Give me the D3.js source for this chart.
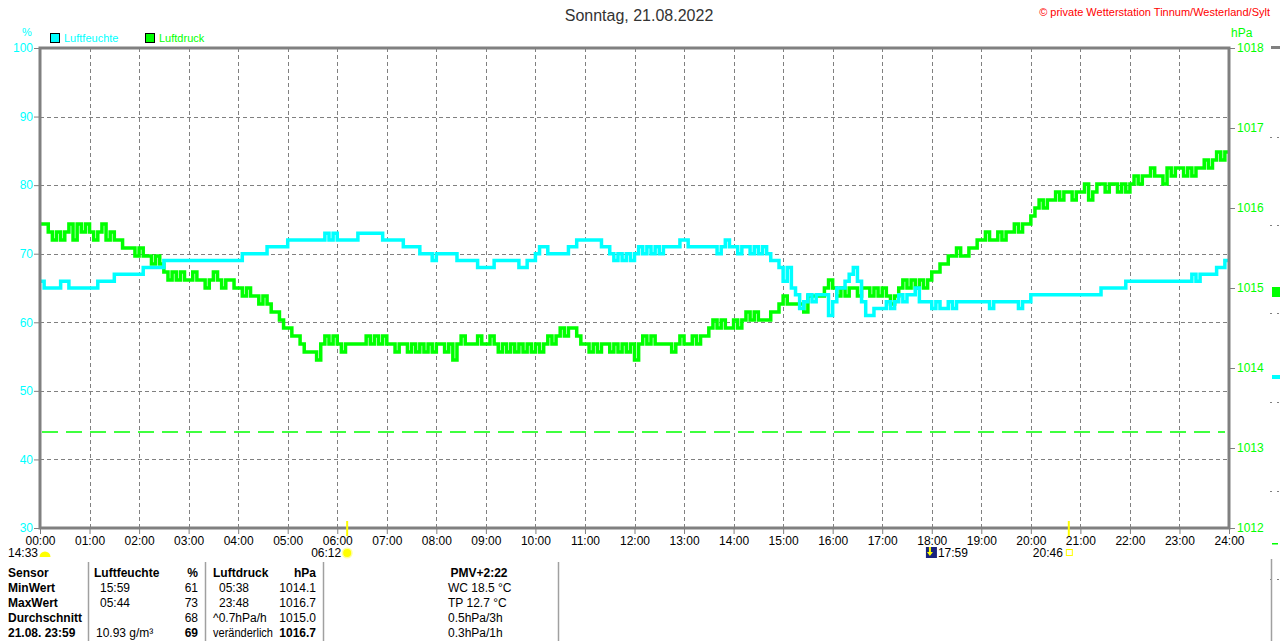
<!DOCTYPE html>
<html><head><meta charset="utf-8">
<script src="https://cdn.jsdelivr.net/npm/d3@7"></script>
<style>
html,body{margin:0;padding:0;background:#fff;}
svg text{font-family:"Liberation Sans",Arial,sans-serif;}
</style></head>
<body>
<svg id="c" width="1280" height="641"></svg>
<script>
// ---------- DATA ----------
const title = "Sonntag, 21.08.2022";
const copyright = "© private Wetterstation Tinnum/Westerland/Sylt";
const seriesNames = ["Luftfeuchte", "Luftdruck"];
const humidityTicks = [30, 40, 50, 60, 70, 80, 90, 100];
const pressureTicks = [1012, 1013, 1014, 1015, 1016, 1017, 1018];
const hourTicks = d3.range(0, 25);
const stepMinutes = 5;
// humidity % every 5 minutes (00:00 ... 24:00)
const humidity = [
  66,65,65,65,65,66,66,65,65,65,65,65,
  65,65,66,66,66,66,67,67,67,67,67,67,
  67,68,68,68,68,68,69,69,69,69,69,69,
  69,69,69,69,69,69,69,69,69,69,69,69,
  69,70,70,70,70,70,70,71,71,71,71,71,
  72,72,72,72,72,72,72,72,72,73,72,73,
  72,72,72,72,72,73,73,73,73,73,73,72,
  72,72,72,72,71,71,71,71,70,70,70,69,
  70,70,70,70,70,69,69,69,69,69,68,68,
  68,68,69,69,69,69,69,69,68,68,69,69,
  70,71,71,70,70,70,70,70,71,71,72,72,
  72,72,72,72,71,71,70,69,70,69,70,69,
  70,71,70,71,70,71,70,71,71,71,71,72,
  72,71,71,71,71,71,71,71,70,71,72,71,
  71,70,71,71,70,71,70,71,70,69,69,68,
  66,68,65,64,62,63,64,63,64,64,64,61,
  63,65,65,66,67,68,66,63,61,61,62,62,
  62,63,62,63,64,63,64,64,65,63,63,63,
  62,63,62,62,63,62,63,63,63,63,63,63,
  63,63,62,63,63,63,63,63,63,62,63,63,
  64,64,64,64,64,64,64,64,64,64,64,64,
  64,64,64,64,64,65,65,65,65,65,65,66,
  66,66,66,66,66,66,66,66,66,66,66,66,
  66,66,66,67,66,67,67,67,67,68,68,69,
  69
];
// pressure hPa every 5 minutes (00:00 ... 24:00)
const pressure = [
  1015.8,1015.8,1015.7,1015.6,1015.7,1015.6,1015.7,1015.8,1015.6,1015.8,1015.7,1015.8,
  1015.7,1015.6,1015.7,1015.8,1015.6,1015.7,1015.6,1015.6,1015.5,1015.5,1015.5,1015.4,
  1015.5,1015.4,1015.4,1015.3,1015.4,1015.3,1015.2,1015.1,1015.2,1015.1,1015.2,1015.1,
  1015.1,1015.2,1015.1,1015.1,1015.0,1015.1,1015.2,1015.1,1015.0,1015.1,1015.1,1015.0,
  1015.0,1014.9,1015.0,1014.9,1014.9,1014.8,1014.9,1014.8,1014.7,1014.7,1014.6,1014.5,
  1014.5,1014.4,1014.4,1014.3,1014.2,1014.2,1014.2,1014.1,1014.3,1014.4,1014.3,1014.4,
  1014.3,1014.2,1014.3,1014.3,1014.3,1014.3,1014.3,1014.4,1014.3,1014.4,1014.3,1014.4,
  1014.3,1014.3,1014.2,1014.3,1014.3,1014.2,1014.3,1014.2,1014.3,1014.2,1014.3,1014.2,
  1014.3,1014.3,1014.2,1014.3,1014.1,1014.3,1014.4,1014.3,1014.3,1014.3,1014.4,1014.3,
  1014.3,1014.4,1014.3,1014.2,1014.3,1014.2,1014.3,1014.2,1014.3,1014.2,1014.3,1014.2,
  1014.3,1014.2,1014.3,1014.4,1014.3,1014.4,1014.5,1014.4,1014.5,1014.5,1014.4,1014.3,
  1014.3,1014.2,1014.3,1014.2,1014.3,1014.3,1014.2,1014.3,1014.2,1014.3,1014.2,1014.3,
  1014.1,1014.3,1014.4,1014.3,1014.4,1014.3,1014.3,1014.3,1014.3,1014.2,1014.3,1014.4,
  1014.3,1014.3,1014.4,1014.3,1014.4,1014.4,1014.5,1014.6,1014.5,1014.6,1014.5,1014.5,
  1014.6,1014.5,1014.6,1014.7,1014.6,1014.7,1014.6,1014.6,1014.6,1014.7,1014.7,1014.8,
  1014.9,1014.8,1014.8,1014.8,1014.8,1014.7,1014.9,1014.9,1014.9,1014.9,1015.0,1015.1,
  1015.0,1014.9,1015.0,1014.9,1015.0,1015.0,1014.9,1015.0,1015.0,1014.9,1015.0,1014.9,
  1015.0,1014.9,1014.8,1014.9,1015.0,1015.1,1015.0,1015.1,1015.0,1015.1,1015.0,1015.1,
  1015.2,1015.2,1015.3,1015.3,1015.4,1015.4,1015.5,1015.4,1015.4,1015.5,1015.5,1015.6,
  1015.6,1015.7,1015.6,1015.6,1015.7,1015.6,1015.7,1015.7,1015.8,1015.7,1015.8,1015.8,
  1015.9,1016.0,1016.1,1016.0,1016.1,1016.1,1016.2,1016.1,1016.2,1016.2,1016.1,1016.2,
  1016.2,1016.3,1016.1,1016.2,1016.3,1016.3,1016.2,1016.3,1016.3,1016.2,1016.3,1016.2,
  1016.3,1016.4,1016.3,1016.4,1016.4,1016.5,1016.4,1016.4,1016.3,1016.5,1016.4,1016.5,
  1016.5,1016.4,1016.5,1016.4,1016.5,1016.5,1016.6,1016.5,1016.6,1016.7,1016.6,1016.7,
  1016.7
];
const pressureRef = 1013.2;
const sunrise = 6 + 12/60, sunset = 20 + 46/60;
const moonrise = "14:33", moonset = 17 + 59/60;
const tableHeader = ["Sensor", "Luftfeuchte", "%", "Luftdruck", "hPa", "PMV+2:22"];
const rowLabels = ["MinWert", "MaxWert", "Durchschnitt", "21.08. 23:59"];
const humTimes = ["15:59", "05:44", "", "10.93 g/m³"];
const humVals = ["61", "73", "68", "69"];
const presTimes = ["05:38", "23:48", "^0.7hPa/h", "veränderlich"];
const presVals = ["1014.1", "1016.7", "1015.0", "1016.7"];
const extraInfo = ["WC 18.5 °C", "TP 12.7 °C", "0.5hPa/3h", "0.3hPa/1h"];

// ---------- CHART ----------
const CYAN = "#00ffff", GREEN = "#00ff00", GRAY = "#808080";
const svg = d3.select("#c");
const L = 40, R = 1229, T = 48, B = 528;
const x = d3.scaleLinear().domain([0, 24]).range([L, R]);
const yH = d3.scaleLinear().domain([30, 100]).range([B, T]);
const yP = d3.scaleLinear().domain([1012, 1018]).range([B, T]);

// title & copyright
svg.append("text").attr("x", 639).attr("y", 21).attr("text-anchor", "middle")
  .attr("font-size", 16).attr("fill", "#333").text(title);
svg.append("text").attr("x", 1270).attr("y", 16).attr("text-anchor", "end")
  .attr("font-size", 11).attr("fill", "#ff0000").text(copyright);

// units
svg.append("text").attr("x", 27).attr("y", 36).attr("text-anchor", "middle")
  .attr("font-size", 11).attr("fill", CYAN).text("%");
svg.append("text").attr("x", 1231).attr("y", 37)
  .attr("font-size", 12).attr("fill", GREEN).text("hPa");

// legend
const legend = [[50, 64, CYAN], [145, 159, GREEN]];
legend.forEach((l, i) => {
  svg.append("rect").attr("x", l[0] + 0.5).attr("y", 33.5).attr("width", 9).attr("height", 9)
    .attr("fill", l[2]).attr("stroke", "#000").attr("stroke-width", 1);
  svg.append("text").attr("x", l[1]).attr("y", 42).attr("font-size", 11)
    .attr("fill", l[2]).text(seriesNames[i]);
});

// grid
const grid = svg.append("g").attr("stroke", GRAY).attr("stroke-width", 1).attr("stroke-dasharray", "4,3");
humidityTicks.slice(1, -1).forEach(v => {
  grid.append("line").attr("x1", L).attr("x2", R).attr("y1", Math.round(yH(v)) + 0.5).attr("y2", Math.round(yH(v)) + 0.5);
});
hourTicks.slice(1, -1).forEach(h => {
  grid.append("line").attr("x1", Math.round(x(h)) + 0.5).attr("x2", Math.round(x(h)) + 0.5).attr("y1", T).attr("y2", B);
});

// reference dashed line
svg.append("line").attr("x1", L + 2).attr("x2", R - 4)
  .attr("y1", yP(pressureRef)).attr("y2", yP(pressureRef))
  .attr("stroke", GREEN).attr("stroke-width", 1.5).attr("stroke-dasharray", "16,8");

// series
const tH = i => x(i * stepMinutes / 60);
const lineP = d3.line().x((d, i) => tH(i)).y(d => yP(d)).curve(d3.curveStepAfter);
const lineH = d3.line().x((d, i) => tH(i)).y(d => yH(d)).curve(d3.curveStepAfter);
svg.append("path").attr("d", lineP(pressure)).attr("fill", "none")
  .attr("stroke", GREEN).attr("stroke-width", 3.5).attr("stroke-linejoin", "miter");
svg.append("path").attr("d", lineH(humidity)).attr("fill", "none")
  .attr("stroke", CYAN).attr("stroke-width", 3.5).attr("stroke-linejoin", "miter");

// frame
svg.append("rect").attr("x", L).attr("y", T).attr("width", R - L).attr("height", B - T)
  .attr("fill", "none").attr("stroke", GRAY).attr("stroke-width", 3);

// axes
function styleAxis(g, color) {
  g.select(".domain").remove();
  g.selectAll(".tick line").attr("stroke", GRAY).attr("stroke-width", 1);
  g.selectAll(".tick text").attr("fill", color).attr("font-size", 12)
    .attr("font-family", "Liberation Sans, Arial, sans-serif");
}
svg.append("g").attr("transform", `translate(${L},0)`)
  .call(d3.axisLeft(yH).tickValues(humidityTicks).tickSize(6).tickPadding(1).tickFormat(d3.format("d")))
  .call(g => styleAxis(g, CYAN));
svg.append("g").attr("transform", `translate(${R},0)`)
  .call(d3.axisRight(yP).tickValues(pressureTicks).tickSize(6).tickPadding(2).tickFormat(d3.format("d")))
  .call(g => styleAxis(g, GREEN));
svg.append("g").attr("transform", `translate(0,${B})`)
  .call(d3.axisBottom(x).tickValues(hourTicks).tickSize(6).tickPadding(2)
    .tickFormat(h => String(h).padStart(2, "0") + ":00"))
  .call(g => styleAxis(g, "#000"));

// sun / moon markers
[sunrise, sunset].forEach(s => {
  svg.append("line").attr("x1", x(s)).attr("x2", x(s)).attr("y1", 521).attr("y2", 536)
    .attr("stroke", "#ffff00").attr("stroke-width", 2);
});
const fmt = h => String(Math.floor(h)).padStart(2, "0") + ":" + String(Math.round((h % 1) * 60)).padStart(2, "0");
const my = 557;
// moonrise (at day start)
svg.append("text").attr("x", 38).attr("y", my).attr("text-anchor", "end").attr("font-size", 12).text(moonrise);
svg.append("path").attr("d", d3.arc()({innerRadius: 0, outerRadius: 5.5, startAngle: -Math.PI / 2, endAngle: Math.PI / 2}))
  .attr("transform", `translate(45,${my})`).attr("fill", "#ffff00");
// sunrise
svg.append("text").attr("x", x(sunrise) - 6).attr("y", my).attr("text-anchor", "end").attr("font-size", 12).text(fmt(sunrise));
svg.append("circle").attr("cx", x(sunrise)).attr("cy", my - 4).attr("r", 5.5).attr("fill", "#ffffa0");
svg.append("circle").attr("cx", x(sunrise)).attr("cy", my - 4).attr("r", 4).attr("fill", "#ffff00");
// moonset
const mx = x(moonset);
svg.append("rect").attr("x", mx - 5).attr("y", my - 10).attr("width", 11).attr("height", 11).attr("fill", "#1a237e");
svg.append("path").attr("d", `M${mx - 2},${my - 10}L${mx - 2},${my - 5}L${mx - 4},${my - 5}L${mx - 1},${my - 1}L${mx + 2},${my - 5}L${mx},${my - 5}L${mx},${my - 10}Z`).attr("fill", "#ffff00");
svg.append("text").attr("x", mx + 7).attr("y", my).attr("font-size", 12).text(fmt(moonset));
// sunset
svg.append("text").attr("x", x(sunset) - 6).attr("y", my).attr("text-anchor", "end").attr("font-size", 12).text(fmt(sunset));
svg.append("rect").attr("x", x(sunset) - 2.5).attr("y", my - 7.5).attr("width", 6).attr("height", 6)
  .attr("fill", "none").attr("stroke", "#ffff00").attr("stroke-width", 1);

// table
const tb = svg.append("g").attr("font-size", 12).attr("fill", "#000");
[88.5, 205.5, 323.5, 558.5].forEach(xx => {
  tb.append("line").attr("x1", xx).attr("x2", xx).attr("y1", 562).attr("y2", 641)
    .attr("stroke", "#a0a0a0").attr("stroke-width", 1.5);
});
const rowY = [577, 592, 607, 622, 637];
const hdr = [[8, "start"], [94, "start"], [198, "end"], [213, "start"], [316, "end"], [479, "middle"]];
tableHeader.forEach((t, i) => {
  tb.append("text").attr("x", hdr[i][0]).attr("y", rowY[0]).attr("text-anchor", hdr[i][1])
    .attr("font-weight", "bold").text(t);
});
rowLabels.forEach((t, i) => {
  const y = rowY[i + 1], last = i === 3;
  tb.append("text").attr("x", 8).attr("y", y).attr("font-weight", "bold").text(t);
  tb.append("text").attr("x", last ? 96 : 100).attr("y", y).text(humTimes[i]);
  tb.append("text").attr("x", 198).attr("y", y).attr("text-anchor", "end")
    .attr("font-weight", last ? "bold" : "normal").text(humVals[i]);
  const pt = tb.append("text").attr("x", i < 2 ? 219 : 213).attr("y", y).text(presTimes[i]);
  if (last) pt.attr("textLength", 60).attr("lengthAdjust", "spacingAndGlyphs");
  tb.append("text").attr("x", 316).attr("y", y).attr("text-anchor", "end")
    .attr("font-weight", last ? "bold" : "normal").text(presVals[i]);
  tb.append("text").attr("x", 448).attr("y", y).text(extraInfo[i]);
});

// fragment of neighbouring chart at right edge
const frag = svg.append("g");
frag.append("line").attr("x1", 1271).attr("x2", 1280).attr("y1", 47.5).attr("y2", 47.5).attr("stroke", GRAY).attr("stroke-width", 3);
[137, 225, 313, 402, 491, 579].forEach(yy => {
  frag.append("line").attr("x1", 1270).attr("x2", 1280).attr("y1", yy + 0.5).attr("y2", yy + 0.5)
    .attr("stroke", GRAY).attr("stroke-dasharray", "2,5");
});
frag.append("rect").attr("x", 1272).attr("y", 287).attr("width", 8).attr("height", 10).attr("fill", GREEN);
frag.append("rect").attr("x", 1272).attr("y", 375).attr("width", 8).attr("height", 4).attr("fill", CYAN);
frag.append("rect").attr("x", 1272).attr("y", 543).attr("width", 6).attr("height", 1.5).attr("fill", GREEN);
frag.append("line").attr("x1", 1271.5).attr("x2", 1271.5).attr("y1", 559).attr("y2", 641).attr("stroke", "#a0a0a0").attr("stroke-width", 1.5);
</script>
</body></html>
